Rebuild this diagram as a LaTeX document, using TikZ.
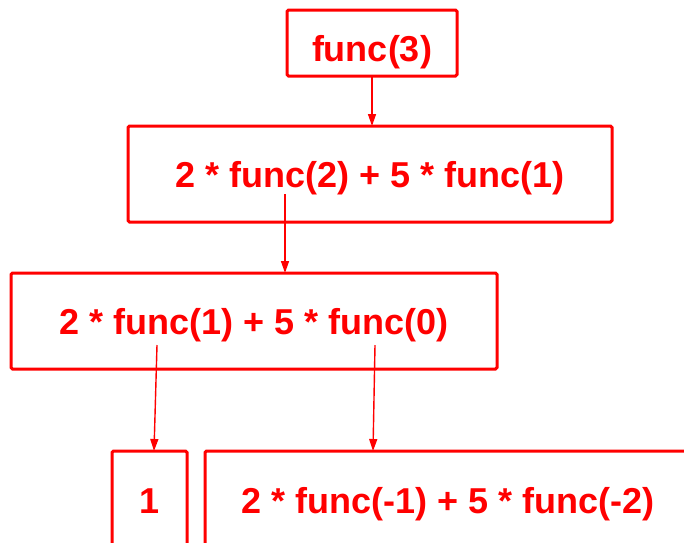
\documentclass[tikz,border=0pt]{standalone}
\usepackage{fontspec}
\setmainfont{Liberation Sans}
\usetikzlibrary{arrows.meta,calc}
\begin{document}
\begin{tikzpicture}[x=1pt,y=-1pt,
  box/.style={draw=red, line width=3pt, text=red, font=\fontsize{36}{40}\selectfont\bfseries, inner sep=0pt, outer sep=0pt, rounded corners=1.5pt, text height=34pt, text depth=8pt},
  conn/.style={draw=red, line width=1.4pt, -{Triangle[length=12pt,width=8pt]}}]
\useasboundingbox (0,0) rectangle (684,542);
\clip (0,0) rectangle (684,542);
\node[box, minimum width=170pt, minimum height=66pt, text height=44pt] (f3) at (372,43) {func(3)};
\node[box, minimum width=484pt, minimum height=96pt] (f2) at (370,174) {2 * func(2) + 5 * func(1)};
\node[box, minimum width=486pt, minimum height=96pt] (f1) at (254,321) {2 * func(1) + 5 * func(0)};
\node[box, minimum width=75pt, minimum height=98pt] (one) at (149.5,500) {1};
\node[box, minimum width=486pt, minimum height=98pt] (fm) at (448,500) {2 * func(-1) + 5 * func(-2)};
\coordinate (s2) at ($(f2.center)+(-85,20)$);
\coordinate (s1a) at ($(f1.center)+(-97,24)$);
\coordinate (s1b) at ($(f1.center)+(121,24)$);
\draw[conn] (f3.south) -- (f3.south |- f2.north);
\draw[conn] (s2) -- (s2 |- f1.north);
\draw[conn] (s1a) -- ($(one.north)+(4.5,0)$);
\draw[conn] (s1b) -- ($(fm.north)+(-75,0)$);
\end{tikzpicture}
\end{document}
